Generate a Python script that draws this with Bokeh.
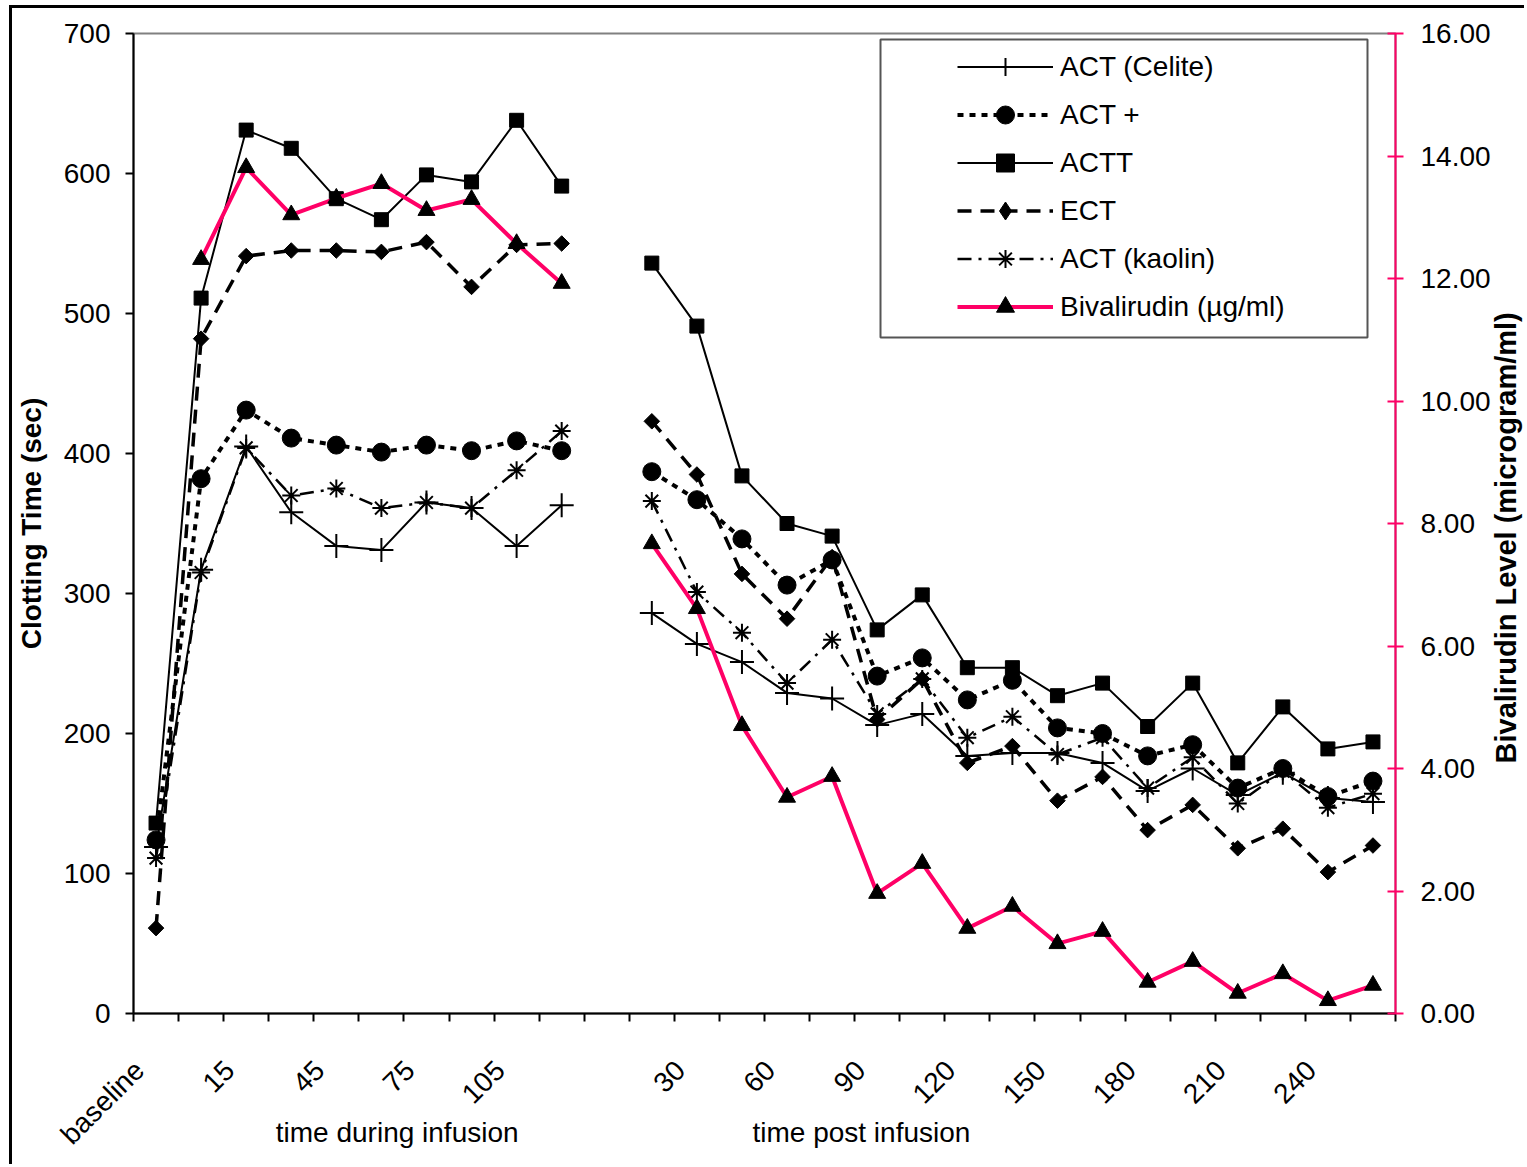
import numpy as np
from bokeh.plotting import figure
from bokeh.models import (Range1d, LinearAxis, FixedTicker, PrintfTickFormatter,
                          Legend, LegendItem, BoxAnnotation)
from bokeh.embed import file_html
from bokeh.resources import INLINE

nan = float("nan")

# ---- data -------------------------------------------------------------
during_labels = ["baseline", "5", "15", "30", "45", "60", "75", "90", "105", "120"]
post_labels = ["15", "30", "45", "60", "75", "90", "105", "120", "135", "150",
               "165", "180", "195", "210", "225", "240", "255"]
categories = during_labels + [""] + post_labels
group_titles = ["time during infusion", "time post infusion"]
right_title = "Bivalirudin Level (microgram/ml)"

act_celite = [119, 317, 405, 358, 334, 331, 365, 361, 334, 363, nan,
              286, 264, 251, 229, 225, 206, 214, 184, 186, 186, 179, 159, 175, 156, 172, 154, 151]
act_plus = [124, 382, 431, 411, 406, 401, 406, 402, 409, 402, nan,
            387, 367, 339, 306, 324, 241, 254, 224, 238, 204, 200, 184, 192, 161, 175, 155, 166]
actt = [136, 511, 631, 618, 582, 567, 599, 594, 638, 591, nan,
        536, 491, 384, 350, 341, 274, 299, 247, 247, 227, 236, 205, 236, 179, 219, 189, 194]
ect = [61, 482, 541, 545, 545, 544, 551, 519, 549, 550, nan,
       423, 385, 314, 282, 326, 210, 239, 179, 191, 152, 169, 131, 149, 118, 132, 101, 120]
act_kaolin = [111, 315, 404, 370, 375, 361, 365, 361, 388, 416, nan,
              366, 301, 272, 236, 267, 214, 239, 197, 212, 185, 197, 161, 183, 150, 173, 147, 157]
bivalirudin = [nan, 12.31, 13.81, 13.04, 13.31, 13.55, 13.11, 13.29, 12.57, 11.92, nan,
               7.67, 6.61, 4.70, 3.53, 3.87, 1.96, 2.45, 1.39, 1.75, 1.14, 1.34,
               0.51, 0.85, 0.33, 0.65, 0.21, 0.46]

left_ticks = [0, 100, 200, 300, 400, 500, 600, 700]
right_ticks = [0, 2, 4, 6, 8, 10, 12, 14, 16]

x = list(range(len(categories)))
FONT = "Liberation Sans"
PINK = "#FF0066"

p = figure(width=1515, height=1159, output_backend="svg", toolbar_location=None,
           x_range=Range1d(-0.5, len(categories) - 0.5), y_range=Range1d(0, 700),
           min_border_left=119, min_border_right=132, min_border_top=25,
           min_border_bottom=154)
p.styles = {"margin-left": "9px", "margin-top": "5px",
            "border-left": "3px solid black", "border-top": "3px solid black"}
p.grid.visible = False
p.outline_line_color = "#808080"
p.outline_line_width = 2
p.extra_y_ranges = {"biv": Range1d(0, 16)}

# x axis: tick marks at category boundaries, labels on every other category
LABEL_SHIFT = 0.37
label_idx = [i for i in range(0, len(categories), 2) if categories[i]]
label_pos = [i - LABEL_SHIFT for i in label_idx]
xa = p.xaxis[0]
xa.ticker = FixedTicker(ticks=label_pos,
                        minor_ticks=[k - 0.5 for k in range(len(categories) + 1)])
xa.major_label_overrides = {i - LABEL_SHIFT: categories[i] for i in label_idx}
xa.axis_line_width = 2
xa.axis_line_color = "black"
xa.major_tick_out = 0
xa.major_tick_in = 0
xa.minor_tick_out = 8
xa.minor_tick_in = 0
xa.minor_tick_line_width = 2
xa.minor_tick_line_color = "black"
xa.major_label_orientation = np.pi / 4
xa.major_label_text_font = FONT
xa.major_label_text_font_size = "28px"
xa.major_label_text_color = "black"
xa.major_label_standoff = 44

# second axis below, only carrying the two group titles
title_pos = [5.35, 15.65]
xb = LinearAxis(ticker=FixedTicker(ticks=title_pos, minor_ticks=[]),
                major_label_overrides={title_pos[0]: group_titles[0],
                                       title_pos[1]: group_titles[1]})
xb.axis_line_alpha = 0
xb.major_tick_out = 0
xb.major_tick_in = 0
xb.minor_tick_out = 0
xb.minor_tick_in = 0
xb.major_label_standoff = -48
xb.major_label_text_font = FONT
xb.major_label_text_font_size = "28px"
xb.major_label_text_color = "black"
p.add_layout(xb, "below")

# left y axis
ya = p.yaxis[0]
ya.ticker = FixedTicker(ticks=left_ticks)
ya.axis_line_width = 2
ya.axis_line_color = "black"
ya.major_tick_out = 8
ya.major_tick_in = 0
ya.major_tick_line_width = 2
ya.minor_tick_out = 0
ya.minor_tick_in = 0
ya.major_label_standoff = 15
ya.major_label_text_font = FONT
ya.major_label_text_font_size = "28px"
ya.major_label_text_color = "black"
ya.axis_label = "Clotting Time (sec)"
ya.axis_label_text_font = FONT
ya.axis_label_text_font_size = "28px"
ya.axis_label_text_font_style = "bold"
ya.axis_label_text_color = "black"
ya.axis_label_standoff = 14

# right y axis (pink line, ticks, labels)
ra = LinearAxis(y_range_name="biv", ticker=FixedTicker(ticks=right_ticks),
                formatter=PrintfTickFormatter(format="%.2f"))
ra.axis_line_color = PINK
ra.axis_line_width = 2
ra.major_tick_line_color = PINK
ra.major_tick_line_width = 2
ra.major_tick_in = 8
ra.major_tick_out = 8
ra.minor_tick_in = 0
ra.minor_tick_out = 0
ra.major_label_standoff = 17
ra.major_label_text_font = FONT
ra.major_label_text_font_size = "28px"
ra.major_label_text_color = "black"
p.add_layout(ra, "right")

# right axis title, drawn as a rotated label of an otherwise invisible axis
TITLE_START = 178.6  # where the title text begins along the left scale
rt = LinearAxis(ticker=FixedTicker(ticks=[TITLE_START], minor_ticks=[]),
                major_label_overrides={TITLE_START: right_title + "\n"})
rt.axis_line_alpha = 0
rt.major_tick_out = 0
rt.major_tick_in = 0
rt.minor_tick_out = 0
rt.minor_tick_in = 0
rt.major_label_orientation = np.pi / 2
rt.major_label_standoff = -3
rt.major_label_text_font = FONT
rt.major_label_text_font_size = "29px"
rt.major_label_text_font_style = "bold"
rt.major_label_text_color = "black"
rt.major_label_text_line_height = -1
p.add_layout(rt, "right")

# series
l1 = p.line(x, act_celite, line_color="black", line_width=2)
m1 = p.scatter(x, act_celite, marker="cross", size=24, line_color="black", line_width=2)
l2 = p.line(x, act_plus, line_color="black", line_width=4, line_dash="6 6")
m2 = p.scatter(x, act_plus, marker="circle", size=18, fill_color="black", line_color="black")
l3 = p.line(x, actt, line_color="black", line_width=2)
m3 = p.scatter(x, actt, marker="square", size=14, fill_color="black", line_color="black")
l4 = p.line(x, ect, line_color="black", line_width=3.5, line_dash="14 9")
m4 = p.scatter(x, ect, marker="square", angle=np.pi / 4, size=11, fill_color="black",
               line_color="black")
m4_key = p.scatter([0], [nan], marker="diamond", size=20, fill_color="black", line_color="black")
l5 = p.line(x, act_kaolin, line_color="black", line_width=2.5, line_dash="14 7 3 7")
m5 = p.scatter(x, act_kaolin, marker="asterisk", size=18, line_color="black", line_width=2)
l6 = p.line(x, bivalirudin, line_color=PINK, line_width=4, y_range_name="biv")
m6 = p.scatter(x, bivalirudin, marker="triangle", size=17, fill_color="black",
               line_color="black", y_range_name="biv")

# legend frame
box = BoxAnnotation(left=747, right=1234, top=974, bottom=676,
                    left_units="screen", right_units="screen", top_units="screen",
                    bottom_units="screen", fill_color="white", fill_alpha=1,
                    line_color="#555555", line_width=2, line_alpha=1, level="underlay")
p.add_layout(box)

legend = Legend(items=[
    LegendItem(label="ACT (Celite)", renderers=[l1, m1]),
    LegendItem(label="ACT +", renderers=[l2, m2]),
    LegendItem(label="ACTT", renderers=[l3, m3]),
    LegendItem(label="ECT", renderers=[l4, m4_key]),
    LegendItem(label="ACT (kaolin)", renderers=[l5, m5]),
    LegendItem(label="Bivalirudin (\u00b5g/ml)", renderers=[l6, m6]),
], location=(824, 684), orientation="vertical", glyph_width=96, glyph_height=45,
    label_height=45, spacing=3, padding=0, margin=0, label_standoff=7,
    label_text_font=FONT, label_text_font_size="28px", label_text_color="black",
    border_line_alpha=0, background_fill_alpha=0)
p.add_layout(legend)

open("out.html", "w").write(file_html(p, INLINE))
